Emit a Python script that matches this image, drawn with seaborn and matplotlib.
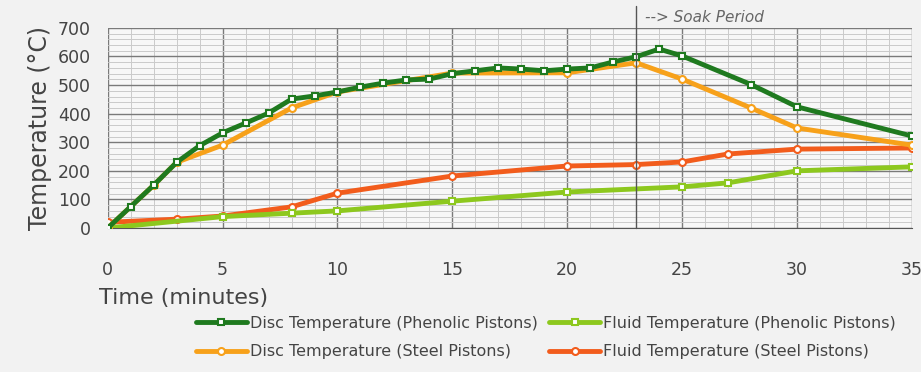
import pandas as pd
import matplotlib.pyplot as plt
import seaborn as sns
from matplotlib.ticker import MultipleLocator

# Data
disc_phen_t = [0, 1, 2, 3, 4, 5, 6, 7, 8, 9, 10, 11, 12, 13, 14, 15, 16, 17, 18, 19, 20, 21, 22, 23, 24, 25, 28, 30, 35]
disc_phen_v = [0, 75, 150, 230, 288, 333, 367, 402, 451, 462, 476, 493, 507, 518, 521, 540, 550, 560, 556, 550, 556, 560, 581, 599, 626, 602, 502, 424, 322]

disc_steel_t = [0, 2, 3, 5, 8, 10, 15, 20, 23, 25, 28, 30, 35]
disc_steel_v = [0, 150, 230, 290, 420, 476, 542, 543, 578, 521, 420, 350, 290]

fluid_phen_t = [0, 5, 8, 10, 15, 20, 25, 27, 30, 35]
fluid_phen_v = [0, 40, 52, 60, 94, 126, 144, 158, 200, 214]

fluid_steel_t = [0, 3, 5, 8, 10, 15, 20, 23, 25, 27, 30, 35]
fluid_steel_v = [20, 31, 42, 74, 122, 182, 217, 222, 231, 259, 276, 280]

series = [
    ('Disc Temperature (Phenolic Pistons)', disc_phen_t, disc_phen_v, '#1f7a1f', 's'),
    ('Disc Temperature (Steel Pistons)', disc_steel_t, disc_steel_v, '#f7a11a', 'o'),
    ('Fluid Temperature (Phenolic Pistons)', fluid_phen_t, fluid_phen_v, '#8dc81e', 's'),
    ('Fluid Temperature (Steel Pistons)', fluid_steel_t, fluid_steel_v, '#f25c1c', 'o'),
]

sns.set_style('white')
plt.rcParams['font.family'] = ['DejaVu Sans']

fig = plt.figure(figsize=(9.21, 3.72), dpi=100, facecolor='#f2f2f2')
ax = fig.add_axes([0.117, 0.387, 0.873, 0.538])
ax.set_facecolor('#f7f7f7')

# fluid lines go under the disc lines
for i in [3, 2, 1, 0]:
    name, t, v, col, mk = series[i]
    df = pd.DataFrame({'t': t, 'v': v})
    sns.lineplot(data=df, x='t', y='v', ax=ax, color=col, linewidth=3.5,
                 marker=mk, markersize=5, markerfacecolor='white',
                 markeredgecolor=col, markeredgewidth=1.5, label=name,
                 zorder=3 + (4 - i))

ax.set_xlim(0, 35)
ax.set_ylim(0, 700)
ax.xaxis.set_major_locator(MultipleLocator(5))
ax.xaxis.set_minor_locator(MultipleLocator(1))
ax.yaxis.set_major_locator(MultipleLocator(100))
ax.yaxis.set_minor_locator(MultipleLocator(20))
ax.grid(which='major', color='#7a7a7a', linewidth=1.0)
ax.grid(which='minor', color='#cacaca', linewidth=0.7)
ax.set_axisbelow(True)
for s in ['top', 'right', 'left']:
    ax.spines[s].set_visible(False)
ax.spines['bottom'].set_color('#555555')
ax.tick_params(axis='x', which='major', length=4, color='#555555', pad=20,
               labelsize=12.5, labelcolor='#444444')
ax.tick_params(axis='x', which='minor', length=0)
ax.tick_params(axis='y', which='both', length=0, pad=12, labelsize=12.5,
               labelcolor='#444444')
ax.set_xlabel('')
ax.set_ylabel('Temperature (°C)', fontsize=17, color='#444444', labelpad=4)
fig.text(0.108, 0.20, 'Time (minutes)', fontsize=16, color='#444444', va='center')

# soak period marker
ax.axvline(23, ymin=0, ymax=1.11, color='#555555', linewidth=1, clip_on=False, zorder=10)
ax.text(23.4, 722, '--> Soak Period', fontstyle='italic', fontsize=11,
        color='#666666', va='baseline', clip_on=False)

handles, labels = ax.get_legend_handles_labels()
lut = dict(zip(labels, handles))
names = [s[0] for s in series]
ax.legend([lut[n] for n in names], names, ncol=2, frameon=False, fontsize=11.5,
          loc='upper left', bbox_to_anchor=(0.197, 0.19), bbox_transform=fig.transFigure,
          handlelength=3.2, columnspacing=0.7, labelspacing=0.85, handletextpad=0.2,
          labelcolor='#444444')

fig.savefig('out.png', dpi=100, facecolor=fig.get_facecolor())
